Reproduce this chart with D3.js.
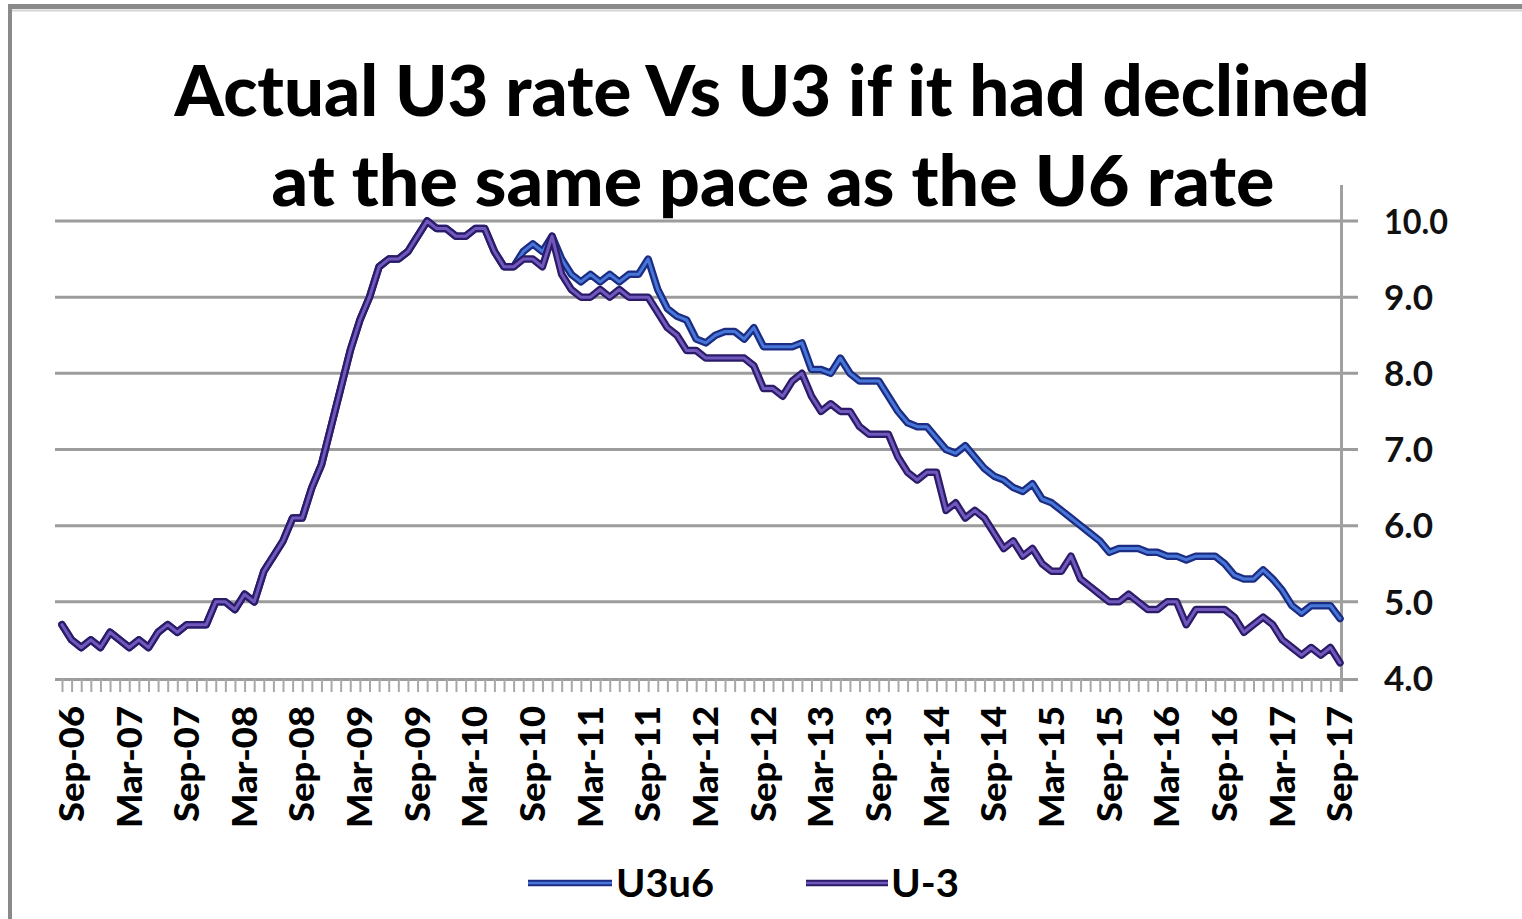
<!DOCTYPE html>
<html><head><meta charset="utf-8">
<script src="https://cdn.jsdelivr.net/npm/d3@7"></script>
<style>html,body{margin:0;padding:0;background:#fff;overflow:hidden} svg{display:block}</style>
</head><body><svg id="c" width="1522" height="919"></svg>
<script>
// ---------- data ----------
const firstMonth = new Date(2006, 7, 1);   // Aug-06
const lastMonth  = new Date(2017, 8, 1);   // Sep-17
const months = d3.timeMonth.range(firstMonth, d3.timeMonth.offset(lastMonth, 1));

// Actual U-3 rate (monthly, Aug-06 .. Sep-17)
const u3 = [
  4.7, 4.5, 4.4, 4.5, 4.4,
  4.6, 4.5, 4.4, 4.5, 4.4, 4.6, 4.7, 4.6, 4.7, 4.7, 4.7, 5.0,
  5.0, 4.9, 5.1, 5.0, 5.4, 5.6, 5.8, 6.1, 6.1, 6.5, 6.8, 7.3,
  7.8, 8.3, 8.7, 9.0, 9.4, 9.5, 9.5, 9.6, 9.8, 10.0, 9.9, 9.9,
  9.8, 9.8, 9.9, 9.9, 9.6, 9.4, 9.4, 9.5, 9.5, 9.4, 9.8, 9.3,
  9.1, 9.0, 9.0, 9.1, 9.0, 9.1, 9.0, 9.0, 9.0, 8.8, 8.6, 8.5,
  8.3, 8.3, 8.2, 8.2, 8.2, 8.2, 8.2, 8.1, 7.8, 7.8, 7.7, 7.9,
  8.0, 7.7, 7.5, 7.6, 7.5, 7.5, 7.3, 7.2, 7.2, 7.2, 6.9, 6.7,
  6.6, 6.7, 6.7, 6.2, 6.3, 6.1, 6.2, 6.1, 5.9, 5.7, 5.8, 5.6,
  5.7, 5.5, 5.4, 5.4, 5.6, 5.3, 5.2, 5.1, 5.0, 5.0, 5.1, 5.0,
  4.9, 4.9, 5.0, 5.0, 4.7, 4.9, 4.9, 4.9, 4.9, 4.8, 4.6, 4.7,
  4.8, 4.7, 4.5, 4.4, 4.3, 4.4, 4.3, 4.4, 4.2
];

// U3 if it had declined at the same pace as U6 (Aug-06 .. Sep-17)
const u3u6 = [
  4.7, 4.5, 4.4, 4.5, 4.4,
  4.6, 4.5, 4.4, 4.5, 4.4, 4.6, 4.7, 4.6, 4.7, 4.7, 4.7, 5.0,
  5.0, 4.9, 5.1, 5.0, 5.4, 5.6, 5.8, 6.1, 6.1, 6.5, 6.8, 7.3,
  7.8, 8.3, 8.7, 9.0, 9.4, 9.5, 9.5, 9.6, 9.8, 10.0, 9.9, 9.9,
  9.8, 9.8, 9.9, 9.9, 9.6, 9.4, 9.4, 9.6, 9.7, 9.6, 9.8, 9.5,
  9.3, 9.2, 9.3, 9.2, 9.3, 9.2, 9.3, 9.3, 9.5, 9.1, 8.85, 8.75,
  8.7, 8.45, 8.4, 8.5, 8.55, 8.55, 8.45, 8.6, 8.35, 8.35, 8.35, 8.35,
  8.4, 8.05, 8.05, 8.0, 8.2, 8.0, 7.9, 7.9, 7.9, 7.7, 7.5, 7.35,
  7.3, 7.3, 7.15, 7.0, 6.95, 7.05, 6.9, 6.75, 6.65, 6.6, 6.5, 6.45,
  6.55, 6.35, 6.3, 6.2, 6.1, 6.0, 5.9, 5.8, 5.65, 5.7, 5.7, 5.7,
  5.65, 5.65, 5.6, 5.6, 5.55, 5.6, 5.6, 5.6, 5.5, 5.35, 5.3, 5.3,
  5.42, 5.3, 5.15, 4.95, 4.85, 4.95, 4.95, 4.95, 4.78
];

const yTicks = [4, 5, 6, 7, 8, 9, 10];
const xTickLabels = ["Sep-06","Mar-07","Sep-07","Mar-08","Sep-08","Mar-09","Sep-09","Mar-10",
  "Sep-10","Mar-11","Sep-11","Mar-12","Sep-12","Mar-13","Sep-13","Mar-14","Sep-14","Mar-15",
  "Sep-15","Mar-16","Sep-16","Mar-17","Sep-17"];
const titleLines = ["Actual U3 rate Vs U3 if it had declined", "at the same pace as the U6 rate"];
const seriesNames = ["U3u6", "U-3"];

// ---------- layout ----------
const svg = d3.select("#c");
const W = 1522, H = 919;
const plot = {left: 62, right: 1340, top: 221, bottom: 678};
const fmt = d3.timeFormat("%b-%y");
const FONT = "Lato, 'Open Sans', sans-serif";

const x = d3.scalePoint().domain(months.map(fmt)).range([plot.left, plot.right]);
const y = d3.scaleLinear().domain([4, 10]).range([plot.bottom, plot.top]);

// frame
svg.append("rect").attr("x", 0).attr("y", 0).attr("width", W).attr("height", H).attr("fill", "#fff");
svg.append("line").attr("x1", 8).attr("x2", W).attr("y1", 6.5).attr("y2", 6.5)
  .attr("stroke", "#8a8a8a").attr("stroke-width", 5);
svg.append("line").attr("x1", 12).attr("x2", W).attr("y1", 10.5).attr("y2", 10.5)
  .attr("stroke", "#d4d4d4").attr("stroke-width", 2);
svg.append("line").attr("x1", 10).attr("x2", 10).attr("y1", 4).attr("y2", H)
  .attr("stroke", "#8a8a8a").attr("stroke-width", 4);

// title
const titleSpec = [{cx: 772, base: 116, len: 1195, size: 71}, {cx: 773, base: 206, len: 1003, size: 71}];
titleLines.forEach((t, i) => {
  svg.append("text").text(t)
    .attr("x", titleSpec[i].cx).attr("y", titleSpec[i].base)
    .attr("text-anchor", "middle")
    .attr("font-family", FONT).attr("font-weight", 900)
    .attr("font-size", titleSpec[i].size)
    .attr("textLength", titleSpec[i].len).attr("lengthAdjust", "spacingAndGlyphs")
    .attr("fill", "#000");
});

// gridlines (extend past right axis like outer tick marks)
svg.append("g").selectAll("line").data(yTicks.slice(1)).join("line")
  .attr("x1", 55).attr("x2", plot.right + 18)
  .attr("y1", d => y(d)).attr("y2", d => y(d))
  .attr("stroke", "#9c9c9c").attr("stroke-width", 3);

// right value axis
const yAxis = d3.axisRight(y).tickValues(yTicks).tickSize(0).tickFormat(d3.format(".1f"));
const gy = svg.append("g").attr("transform", `translate(${plot.right + 44},0)`).call(yAxis);
gy.select(".domain").remove();
gy.selectAll("text").attr("x", 0).attr("dy", "0.36em")
  .attr("font-family", FONT).attr("font-weight", 700).attr("font-size", 34).attr("fill", "#111")
  .attr("textLength", d => d >= 10 ? 64 : 49).attr("lengthAdjust", "spacingAndGlyphs");
svg.append("line").attr("x1", plot.right + 1.5).attr("x2", plot.right + 1.5)
  .attr("y1", 185).attr("y2", plot.bottom + 14)
  .attr("stroke", "#a0a0a0").attr("stroke-width", 3);

// category axis: line + monthly ticks
const xAxis = d3.axisBottom(x).tickSize(13).tickFormat("");
const gx = svg.append("g").attr("transform", `translate(0,${plot.bottom + 1})`).call(xAxis);
gx.select(".domain").attr("d", `M55,0.5H${plot.right + 18}`).attr("stroke", "#9c9c9c").attr("stroke-width", 3);
gx.selectAll(".tick line").attr("stroke", "#a8a8a8").attr("stroke-width", 2);

// rotated category labels
svg.append("g").selectAll("text").data(xTickLabels).join("text")
  .text(d => d)
  .attr("transform", d => `translate(${x(d)},706) rotate(-90)`)
  .attr("text-anchor", "end").attr("dy", "0.36em")
  .attr("font-family", FONT).attr("font-weight", 900).attr("font-size", 34)
  .attr("textLength", d => d.startsWith("Mar") ? 122 : 116).attr("lengthAdjust", "spacingAndGlyphs")
  .attr("fill", "#000");

// series
const series = [
  {name: seriesNames[0], values: u3u6, outer: "#1c2c82", inner: "#4676d8"},
  {name: seriesNames[1], values: u3,   outer: "#2b1b68", inner: "#7058bc"}
];
const line = d3.line().x((d, i) => x(fmt(months[i]))).y(d => y(d));
const gl = svg.append("g");
series.forEach(s => {
  gl.append("path").datum(s.values).attr("d", line).attr("fill", "none")
    .attr("stroke", s.outer).attr("stroke-width", 7.5).attr("stroke-linejoin", "round").attr("stroke-linecap", "round");
  gl.append("path").datum(s.values).attr("d", line).attr("fill", "none")
    .attr("stroke", s.inner).attr("stroke-width", 3).attr("stroke-linejoin", "round").attr("stroke-linecap", "round");
});

// legend
const legSpec = [{x1: 528, x2: 612, tx: 616, len: 98}, {x1: 806, x2: 888, tx: 891, len: 68}];
series.forEach((s, i) => {
  const L = legSpec[i];
  const g = svg.append("g");
  g.append("line").attr("x1", L.x1).attr("x2", L.x2).attr("y1", 883).attr("y2", 883)
    .attr("stroke", s.outer).attr("stroke-width", 6.5);
  g.append("line").attr("x1", L.x1).attr("x2", L.x2).attr("y1", 883).attr("y2", 883)
    .attr("stroke", s.inner).attr("stroke-width", 2.5);
  g.append("text").text(s.name).attr("x", L.tx).attr("y", 897)
    .attr("font-family", FONT).attr("font-weight", 700).attr("font-size", 38)
    .attr("textLength", L.len).attr("lengthAdjust", "spacingAndGlyphs").attr("fill", "#000");
});
</script></body></html>
